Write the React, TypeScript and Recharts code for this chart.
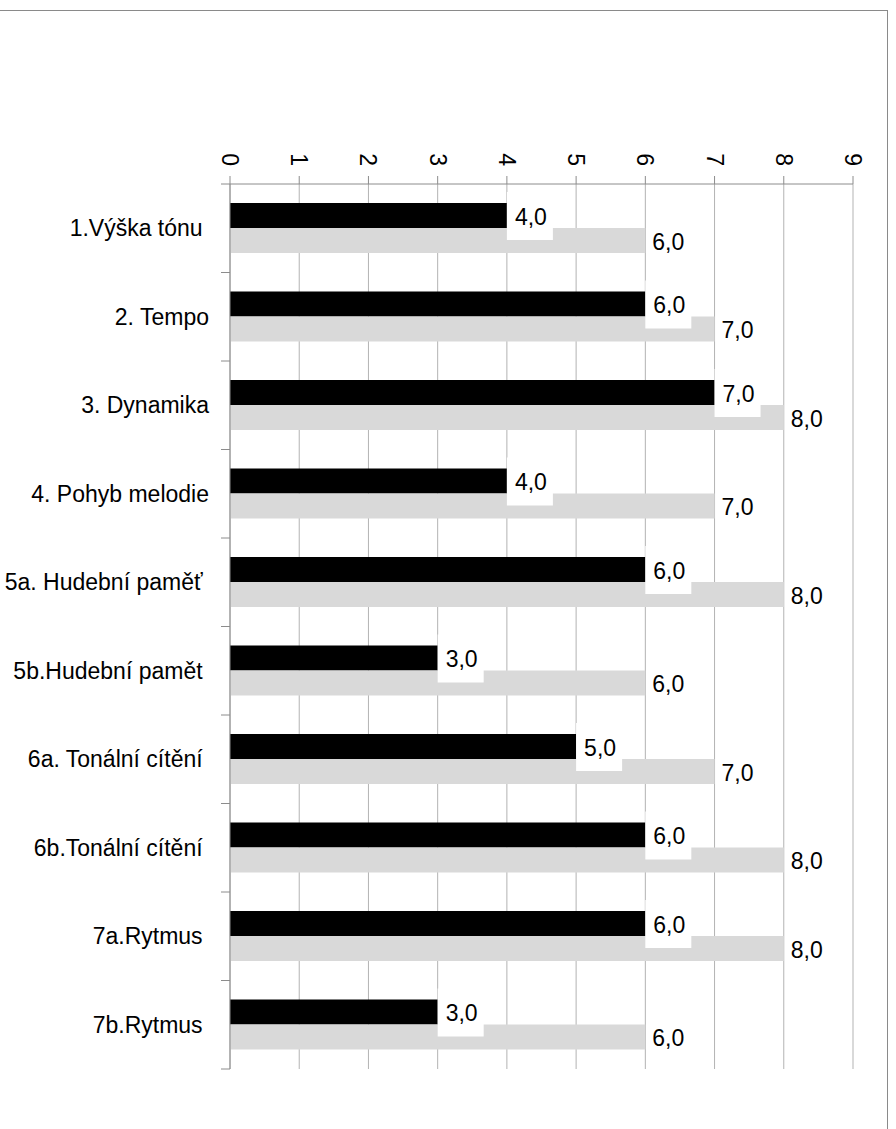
import { Bar, BarChart, CartesianGrid, LabelList, XAxis, YAxis } from "recharts";

const KATEGORIE = [
  "1.Výška tónu ",
  "2. Tempo",
  "3. Dynamika",
  "4. Pohyb melodie",
  "5a. Hudební paměť ",
  "5b.Hudební pamět ",
  "6a. Tonální cítění ",
  "6b.Tonální cítění ",
  "7a.Rytmus ",
  "7b.Rytmus ",
];
const CERNA = [4, 6, 7, 4, 6, 3, 5, 6, 6, 3];
const SEDA = [6, 7, 8, 7, 8, 6, 7, 8, 8, 6];
const OSA_X = [0, 1, 2, 3, 4, 5, 6, 7, 8, 9];

const data = KATEGORIE.map((nazev, i) => ({ nazev, cerna: CERNA[i], seda: SEDA[i] }));

const W = 896;
const H = 1129;
const VYSKA_OSY_X = 30;
const OKRAJ = { top: 184 - VYSKA_OSY_X, right: 43, bottom: 60, left: 0 };
const VYSKA_PLOCHY = H - 184 - OKRAJ.bottom;
const PASMO = VYSKA_PLOCHY / KATEGORIE.length;
const FONT = '"Liberation Sans", Arial, sans-serif';
const CARA = "#8c8c8c";
const MRIZKA = "#b3b3b3";

const fmt = (v: number) => v.toFixed(1).replace(".", ",");

function TickX(props: any) {
  const { x, y, payload } = props;
  return (
    <text
      x={x}
      y={y}
      transform={`rotate(90, ${x}, ${y})`}
      textAnchor="end"
      dominantBaseline="central"
      fontFamily={FONT}
      fontSize={23}
      fill="#000"
    >
      {payload.value}
    </text>
  );
}

function TickY(props: any) {
  const { y, payload, index } = props;
  const posledni = index === KATEGORIE.length - 1;
  return (
    <g>
      <line x1={221} x2={230} y1={y - PASMO / 2} y2={y - PASMO / 2} stroke={CARA} />
      {posledni && <line x1={221} x2={230} y1={y + PASMO / 2} y2={y + PASMO / 2} stroke={CARA} />}
      <text
        x={209}
        y={y}
        textAnchor="end"
        dominantBaseline="central"
        fontFamily={FONT}
        fontSize={23}
        fill="#000"
        style={{ whiteSpace: "pre" }}
      >
        {payload.value}
      </text>
    </g>
  );
}

// popisky obou rad kreslime az pres sedy sloupec, aby bily box cerne hodnoty lezel nahore
function Popisky(props: any) {
  const { x, y, width, height, index } = props;
  const konecCerne = x + (width * CERNA[index]) / SEDA[index];
  const yCerne = y - height;
  return (
    <g>
      <rect x={konecCerne} y={yCerne - 11} width={46} height={48} fill="#fff" />
      <text
        x={konecCerne + 8}
        y={yCerne + height / 2 + 1}
        dominantBaseline="central"
        fontFamily={FONT}
        fontSize={23}
        fill="#000"
      >
        {fmt(CERNA[index])}
      </text>
      <text
        x={x + width + 7}
        y={y + height / 2 + 1}
        dominantBaseline="central"
        fontFamily={FONT}
        fontSize={23}
        fill="#000"
      >
        {fmt(SEDA[index])}
      </text>
    </g>
  );
}

export default function App() {
  return (
    <div style={{ position: "absolute", left: 0, top: 0, width: W, height: H, overflow: "hidden", background: "#fff" }}>
      <div
        style={{
          position: "absolute",
          left: -2,
          top: 10,
          width: 890,
          height: 1300,
          boxSizing: "border-box",
          border: "1px solid #8a8a8a",
        }}
      />
      <div style={{ position: "absolute", left: 0, top: 0 }}>
        <BarChart width={W} height={H} data={data} layout="vertical" margin={OKRAJ} barGap={0} barSize={25}>
          <CartesianGrid horizontal={false} stroke={MRIZKA} />
          <XAxis
            type="number"
            orientation="top"
            domain={[0, 9]}
            ticks={OSA_X}
            interval={0}
            height={VYSKA_OSY_X}
            tickSize={8}
            tickMargin={10}
            stroke={CARA}
            tick={<TickX />}
          />
          <YAxis
            type="category"
            dataKey="nazev"
            width={230}
            tickLine={false}
            stroke={CARA}
            interval={0}
            tick={<TickY />}
          />
          <Bar dataKey="cerna" fill="#000" isAnimationActive={false} />
          <Bar dataKey="seda" fill="#d9d9d9" isAnimationActive={false}>
            <LabelList dataKey="seda" content={<Popisky />} />
          </Bar>
        </BarChart>
      </div>
    </div>
  );
}
